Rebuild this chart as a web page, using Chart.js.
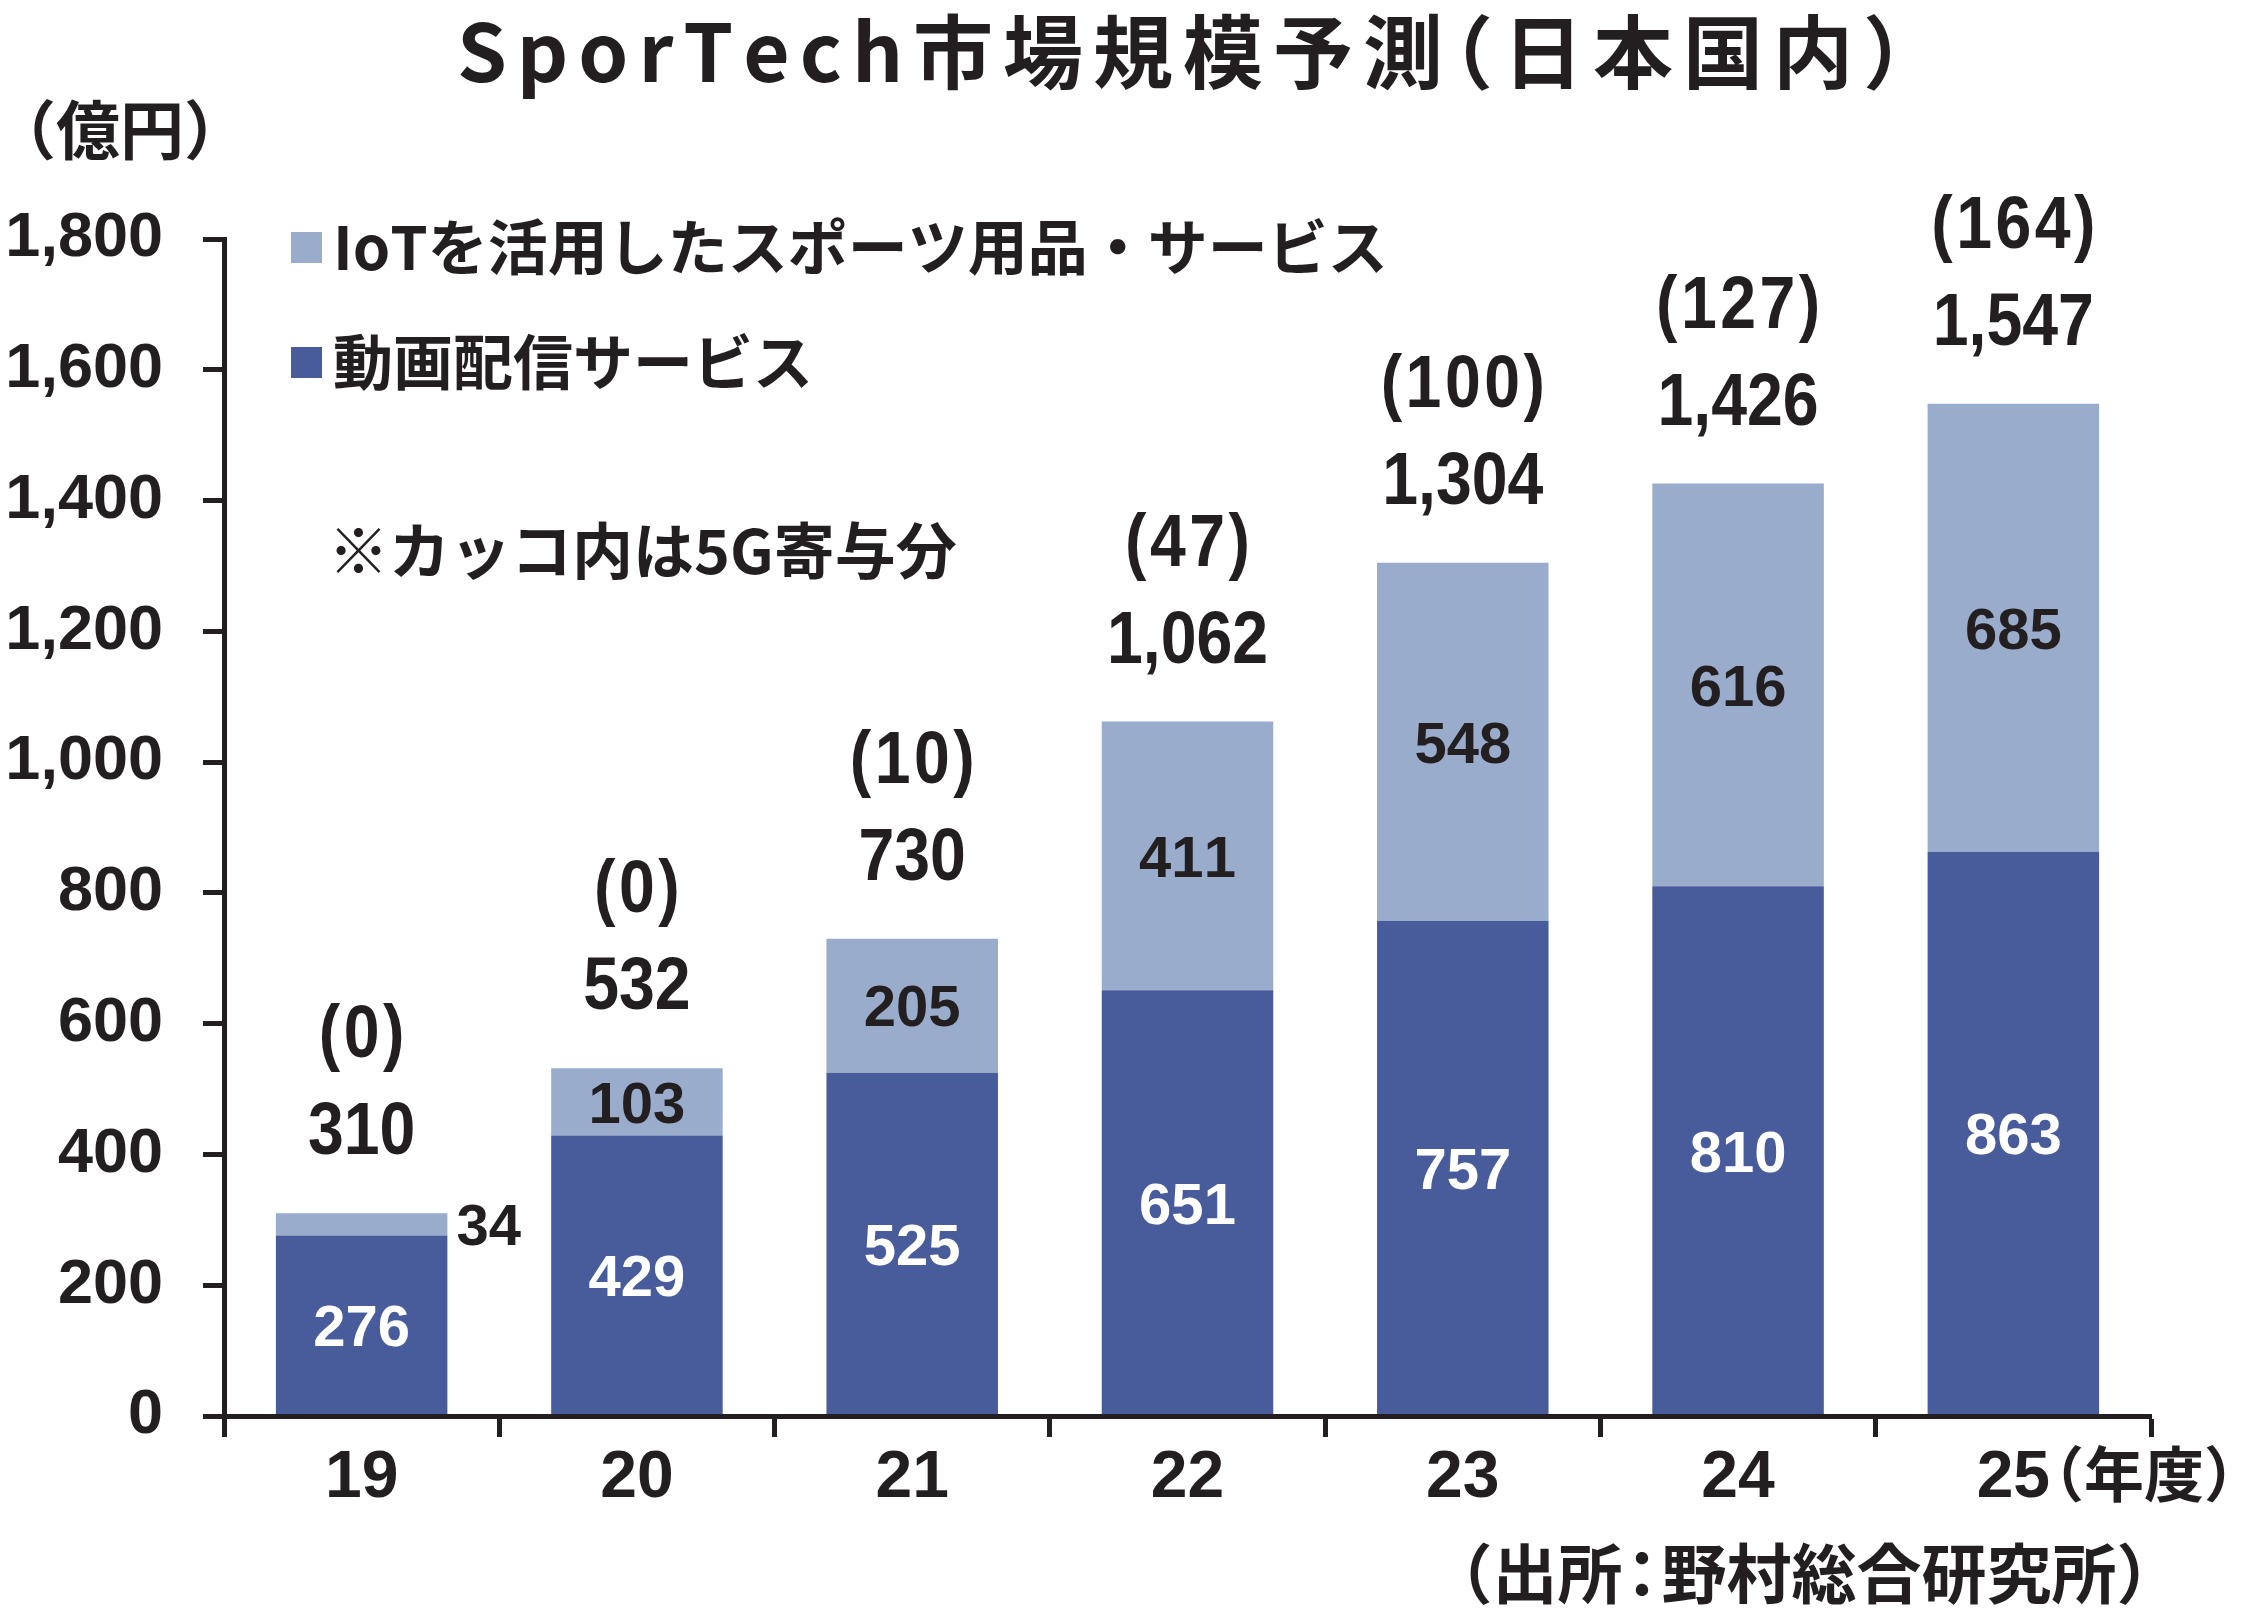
<!DOCTYPE html>
<html>
<head>
<meta charset="utf-8">
<style>
  html, body { margin: 0; padding: 0; background: #ffffff; }
  canvas { display: block; }
</style>
<script src="https://cdn.jsdelivr.net/npm/chart.js@4.4.1/dist/chart.umd.min.js"></script>
</head>
<body>
<canvas id="c" width="2255" height="1613"></canvas>
<script>
// ---- data ----
const years = ['19', '20', '21', '22', '23', '24', '25'];
const videoValues = [276, 429, 525, 651, 757, 810, 863];
const iotValues = [34, 103, 205, 411, 548, 616, 685];
const totalValues = [310, 532, 730, 1062, 1304, 1426, 1547];
const fiveGValues = [0, 0, 10, 47, 100, 127, 164];
const seriesNames = ['動画配信サービス', 'IoTを活用したスポーツ用品・サービス'];
const titleText = 'SporTech市場規模予測（日本国内）';
const unitText = '（億円）';
const yearUnitText = '（年度）';
const noteText = '※カッコ内は5G寄与分';
const sourceText = '（出所：野村総合研究所）';
const yMin = 0, yMax = 1800, yStep = 200;

// ---- style ----
const INK = '#231F20';
const DARK = '#485C9B';
const LIGHT = '#99ACCC';
const NUM = '"Liberation Sans", Arial, sans-serif';
const JP = '"Noto Sans CJK JP", "Noto Sans CJK SC", sans-serif';

function drawRun(ctx, text, x, y, o) {
  ctx.save();
  ctx.font = `${o.weight || 'bold'} ${o.size}px ${o.family}`;
  ctx.fillStyle = o.color || INK;
  ctx.textBaseline = o.baseline || 'middle';
  ctx.textAlign = 'left';
  const sx = o.scaleX || 1, sp = o.spacing || 0;
  const items = [];
  let total = 0;
  for (const ch of text) {
    const w = ctx.measureText(ch).width;
    let adv = w, off = 0;
    if (o.halt && '（'.includes(ch)) { adv = w / 2; off = -w / 2; }
    else if (o.halt && '）'.includes(ch)) { adv = w / 2; }
    else if (o.halt && '：'.includes(ch)) { adv = w * 0.6; off = -w * 0.2; }
    items.push([ch, off, total]);
    total += adv + sp;
  }
  total -= sp;
  let start = x;
  if (o.align === 'center') start = x - total * sx / 2;
  else if (o.align === 'right') start = x - total * sx;
  ctx.translate(start, y);
  ctx.scale(sx, 1);
  for (const [ch, off, pos] of items) ctx.fillText(ch, pos + off, 0);
  ctx.restore();
  return total * sx;
}

const fmt = v => v.toLocaleString('en-US');

const textPlugin = {
  id: 'texts',
  afterDatasetsDraw(chart) {
    const ctx = chart.ctx;
    const mv = chart.getDatasetMeta(0), mi = chart.getDatasetMeta(1);
    for (let i = 0; i < years.length; i++) {
      const ev = mv.data[i], ei = mi.data[i];
      const cv = (ev.y + ev.base) / 2;
      drawRun(ctx, String(videoValues[i]), ev.x, cv + 0.358 * 58, {size: 58, family: NUM, color: '#ffffff', align: 'center', baseline: 'alphabetic'});
      const hi = Math.abs(ei.base - ei.y);
      const ci = (ei.y + ei.base) / 2;
      if (hi < 50) {
        drawRun(ctx, String(iotValues[i]), ei.x + ei.width / 2 + 9, ci + 0.358 * 58, {size: 58, family: NUM, color: INK, align: 'left', baseline: 'alphabetic'});
      } else {
        drawRun(ctx, String(iotValues[i]), ei.x, ci + 0.358 * 58, {size: 58, family: NUM, color: INK, align: 'center', baseline: 'alphabetic'});
      }
      const top = Math.min(ei.y, ev.y);
      drawRun(ctx, fmt(totalValues[i]), ei.x, top - 59, {size: 74, family: NUM, color: INK, align: 'center', baseline: 'alphabetic', scaleX: 0.87});
      drawRun(ctx, '(' + fmt(fiveGValues[i]) + ')', ei.x, top - 156, {size: 74, family: NUM, color: INK, align: 'center', baseline: 'alphabetic', scaleX: 0.87, spacing: 4});
    }
  },
  afterDraw(chart) {
    const ctx = chart.ctx;
    drawRun(ctx, titleText, 1180, 52, {size: 80, family: JP, align: 'center', spacing: 10, halt: true});
    drawRun(ctx, unitText, 24, 130, {size: 64, family: JP, align: 'left', halt: true});
    const ds = chart.data.datasets;
    const legendRows = [[ds[1], 247], [ds[0], 362]];
    for (const [d, cy] of legendRows) {
      ctx.fillStyle = d.backgroundColor;
      ctx.fillRect(291, cy - 15, 31, 31);
      drawRun(ctx, d.label, 333, cy, {size: 60, family: JP, align: 'left'});
    }
    drawRun(ctx, noteText, 328, 551, {size: 61, family: JP, align: 'left'});
    const xs = chart.scales.x;
    const px = xs.getPixelForValue(years.length - 1);
    ctx.save();
    ctx.font = `bold 66px ${NUM}`;
    const w25 = ctx.measureText(years[years.length - 1]).width;
    ctx.restore();
    drawRun(ctx, yearUnitText, px + w25 / 2 + 4, 1474, {size: 60, family: JP, align: 'left', halt: true});
    drawRun(ctx, sourceText, 1460, 1573, {size: 65, family: JP, align: 'left', halt: true});
  }
};

new Chart(document.getElementById('c'), {
  type: 'bar',
  data: {
    labels: years,
    datasets: [
      {label: seriesNames[0], data: videoValues, backgroundColor: DARK, stack: 's',
       barPercentage: 0.623, categoryPercentage: 1.0},
      {label: seriesNames[1], data: iotValues, backgroundColor: LIGHT, stack: 's',
       barPercentage: 0.623, categoryPercentage: 1.0}
    ]
  },
  options: {
    responsive: false,
    animation: false,
    devicePixelRatio: 1,
    layout: {padding: {left: 0, top: 239, right: 104, bottom: 77}},
    plugins: {legend: {display: false}, title: {display: false}, tooltip: {enabled: false}},
    scales: {
      x: {
        stacked: true,
        grid: {display: true, offset: true, drawOnChartArea: false, drawTicks: true,
               tickLength: 21, tickWidth: 5, tickColor: INK},
        border: {display: true, color: INK, width: 5, z: 1},
        ticks: {font: {family: NUM, size: 66, weight: 'bold'}, color: INK, padding: 2, maxRotation: 0},
        afterFit: s => { s.height = 120; }
      },
      y: {
        stacked: true,
        min: yMin, max: yMax,
        grid: {display: true, drawOnChartArea: false, drawTicks: true,
               tickLength: 21, tickWidth: 5, tickColor: INK},
        border: {display: true, color: INK, width: 5, z: 1},
        ticks: {stepSize: yStep, callback: v => fmt(v), font: {family: NUM, size: 63, weight: 'bold'},
                color: INK, padding: 40},
        afterFit: s => { s.width = 224; }
      }
    }
  },
  plugins: [textPlugin]
});
</script>
</body>
</html>
